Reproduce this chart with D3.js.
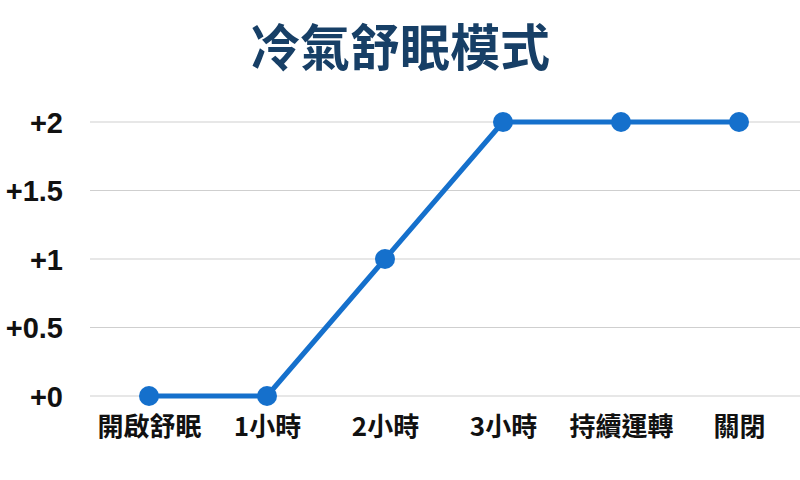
<!DOCTYPE html>
<html>
<head>
<meta charset="utf-8">
<script src="https://cdn.jsdelivr.net/npm/d3@7"></script>
<style>
  body { margin: 0; background: #fff; }
  text { font-family: "Liberation Sans", "Noto Sans CJK TC", sans-serif; }
</style>
</head>
<body>
<div id="chart"></div>
<script>
// chart data
var title = "冷氣舒眠模式";
var stages = ["開啟舒眠", "1小時", "2小時", "3小時", "持續運轉", "關閉"];
var tempChange = [0, 0, 1, 2, 2, 2];
var yTicks = [0, 0.5, 1, 1.5, 2];

var width = 800,
    height = 480;

var margin = { top: 122, right: 2, bottom: 84, left: 90 };

var svg = d3.select("#chart").append("svg")
    .attr("width", width)
    .attr("height", height);

var x = d3.scalePoint()
    .domain(stages)
    .range([margin.left, width - margin.right])
    .padding(0.5);

var y = d3.scaleLinear()
    .domain([0, 2])
    .range([height - margin.bottom, margin.top]);

// title
svg.append("text")
    .attr("x", width / 2)
    .attr("y", 66)
    .attr("text-anchor", "middle")
    .style("font-family", "'Noto Sans CJK TC', sans-serif")
    .style("font-weight", 700)
    .style("font-size", "50px")
    .attr("fill", "#173f66")
    .text(title);

// gridlines
svg.append("g")
    .selectAll("line")
    .data(yTicks)
    .enter().append("line")
    .attr("x1", margin.left)
    .attr("x2", width)
    .attr("y1", function(d) { return y(d); })
    .attr("y2", function(d) { return y(d); })
    .attr("stroke", "#cfcfcf")
    .attr("stroke-width", 1);

// y axis labels
var yAxis = d3.axisLeft(y)
    .tickValues(yTicks)
    .tickSize(0)
    .tickPadding(0)
    .tickFormat(function(d) { return "+" + d; });

svg.append("g")
    .attr("transform", "translate(63,0)")
    .call(yAxis)
    .call(function(g) { g.select(".domain").remove(); })
    .selectAll("text")
    .attr("dy", "0.36em")
    .style("font-size", "29px")
    .style("font-weight", "bold")
    .attr("fill", "#111");

// x axis labels
var xAxis = d3.axisBottom(x).tickSize(0).tickPadding(0);

svg.append("g")
    .attr("transform", "translate(0," + (height - margin.bottom + 22) + ")")
    .call(xAxis)
    .call(function(g) { g.select(".domain").remove(); })
    .selectAll("text")
    .style("font-family", "'Noto Sans CJK TC', sans-serif")
    .style("font-size", "26px")
    .style("font-weight", "bold")
    .attr("fill", "#111");

// the line
var line = d3.line()
    .x(function(d, i) { return x(stages[i]); })
    .y(function(d) { return y(d); });

svg.append("path")
    .datum(tempChange)
    .attr("fill", "none")
    .attr("stroke", "#1570cc")
    .attr("stroke-width", 5)
    .attr("stroke-linejoin", "round")
    .attr("d", line);

// points
svg.append("g")
    .selectAll("circle")
    .data(tempChange)
    .enter().append("circle")
    .attr("cx", function(d, i) { return x(stages[i]); })
    .attr("cy", function(d) { return y(d); })
    .attr("r", 10)
    .attr("fill", "#1570cc");
</script>
</body>
</html>
